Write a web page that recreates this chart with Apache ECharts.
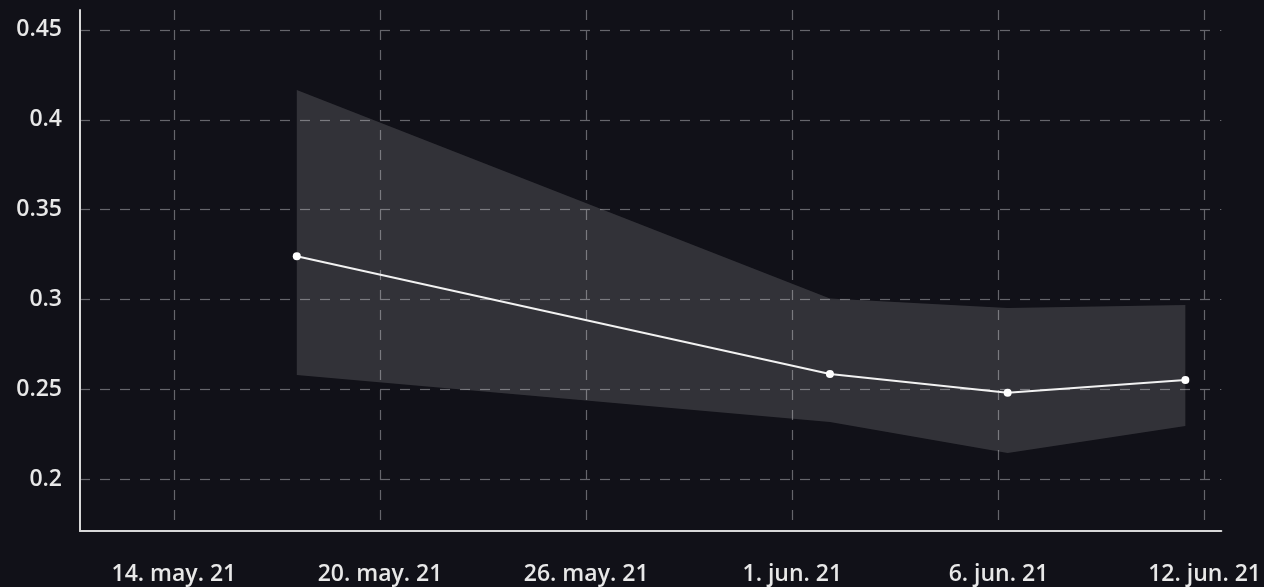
<!DOCTYPE html>
<html>
<head>
<meta charset="utf-8">
<script src="https://cdn.jsdelivr.net/npm/echarts@6/dist/echarts.min.js"></script>
<style>
  html, body { margin: 0; padding: 0; background: #111118; }
  #chart { width: 1264px; height: 587px; }
</style>
</head>
<body>
<div id="chart"></div>
<script>
// Observation dates (local time) and the estimate with its lower/upper bounds
const obsDates = ['2021-05-17T11:00', '2021-06-01T11:00', '2021-06-06T11:00', '2021-06-11T11:00'];
const estimate = [0.324, 0.2585, 0.248, 0.2552];
const lowerBound = [0.258, 0.2318, 0.2145, 0.2295];
const upperBound = [0.4166, 0.3005, 0.2952, 0.2969];

// X tick positions in days after 14 May 2021, and their labels
const tickDays = [0, 5.8, 11.6, 17.4, 23.2, 29];
const tickLabels = ['14. may. 21', '20. may. 21', '26. may. 21', '1. jun. 21', '6. jun. 21', '12. jun. 21'];

// Y ticks
const yTicks = [0.2, 0.25, 0.3, 0.35, 0.4, 0.45];
const yTickLabels = ['0.2', '0.25', '0.3', '0.35', '0.4', '0.45'];

const origin = new Date('2021-05-14T00:00').getTime();
const toDays = s => (new Date(s).getTime() - origin) / 86400000;
const xs = obsDates.map(toDays);

const bandData = xs.map((x, i) => [x, lowerBound[i], upperBound[i]]);
const lineData = xs.map((x, i) => [x, estimate[i]]);

const fontFamily = '"Open Sans", "Noto Sans", sans-serif';
const gridLine = { show: true, lineStyle: { color: '#65656b', type: [10, 10], width: 1.2 } };
const labelStyle = { color: '#e8e8e8', fontSize: 23, fontWeight: 600, fontFamily };

// Confidence band: one polygon along the lower bound and back along the upper bound
function renderBand(params, api) {
  if (params.dataIndex !== 0) return null;
  const lower = bandData.map(d => api.coord([d[0], d[1]]));
  const upper = bandData.map(d => api.coord([d[0], d[2]])).reverse();
  return {
    type: 'polygon',
    shape: { points: lower.concat(upper) },
    style: { fill: 'rgba(255,255,255,0.14)' }
  };
}

const chart = echarts.init(document.getElementById('chart'), null, { renderer: 'canvas' });
chart.setOption({
  backgroundColor: '#111118',
  animation: false,
  grid: { left: 80, right: 41, top: 10, bottom: 56, containLabel: false },
  xAxis: {
    type: 'value',
    min: -2.641,
    max: 29.47,
    axisLine: { show: true, onZero: false, lineStyle: { color: '#d8d8d8', width: 2 } },
    axisTick: { show: false, customValues: tickDays },
    axisLabel: Object.assign({
      customValues: tickDays,
      formatter: v => {
        const i = tickDays.findIndex(t => Math.abs(t - v) < 1e-6);
        return i >= 0 ? tickLabels[i] : '';
      },
      margin: 32
    }, labelStyle),
    splitLine: gridLine
  },
  yAxis: {
    type: 'value',
    min: 0.1711,
    max: 0.4611,
    axisLine: { show: true, onZero: false, lineStyle: { color: '#d8d8d8', width: 2 } },
    axisTick: { show: false, customValues: yTicks },
    axisLabel: Object.assign({
      customValues: yTicks,
      formatter: v => {
        const i = yTicks.findIndex(t => Math.abs(t - v) < 1e-9);
        return i >= 0 ? yTickLabels[i] : '';
      },
      margin: 18
    }, labelStyle),
    splitLine: gridLine
  },
  series: [
    {
      type: 'custom',
      renderItem: renderBand,
      data: bandData,
      encode: { x: 0, y: [1, 2] },
      silent: true,
      z: 1
    },
    {
      type: 'line', data: lineData,
      symbol: 'circle', symbolSize: 8,
      lineStyle: { color: '#f2f2f2', width: 2 },
      itemStyle: { color: '#ffffff', borderWidth: 0 },
      z: 5
    }
  ]
});
</script>
</body>
</html>
